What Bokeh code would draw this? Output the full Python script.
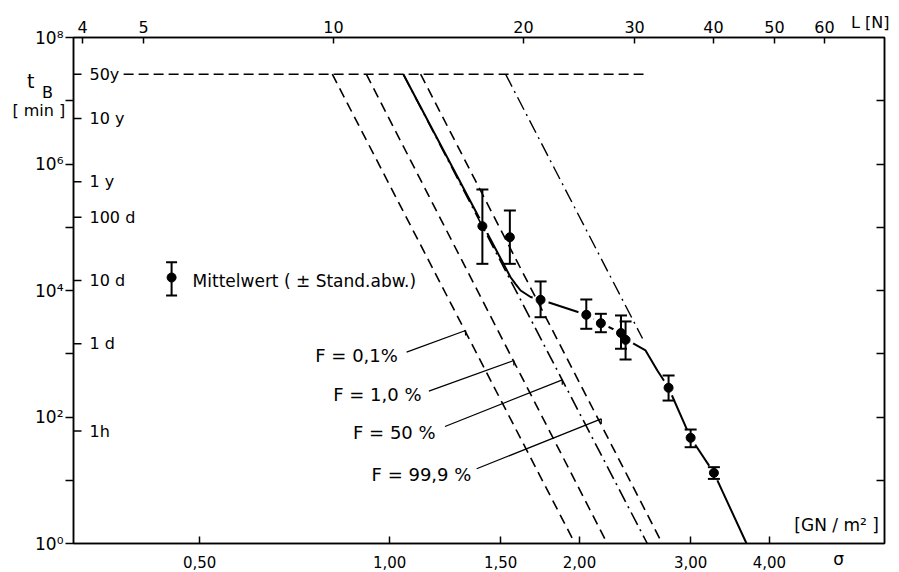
from bokeh.plotting import figure
from bokeh.models import Range1d, LogScale, LogAxis, FixedTicker, Label
from bokeh.core.properties import value
from bokeh.embed import file_html
from bokeh.resources import INLINE

FONT = "DejaVu Sans"

# ---- measured points: sigma [GN/m^2], t_B [min] (mean, upper, lower) ----
sigma_pts = [1.403, 1.551, 1.735, 2.05, 2.162, 2.327, 2.366, 2.768, 3.00, 3.266]
t_mean = [1.04e5, 6.96e4, 7.13e3, 4.13e3, 3.04e3, 2.13e3, 1.66e3, 290, 46.9, 13.1]
t_upper = [3.95e5, 1.84e5, 1.39e4, 7.21e3, 4.28e3, 4.03e3, 3.24e3, 453, 63.4, 16.1]
t_lower = [2.64e4, 2.64e4, 3.78e3, 2.48e3, 2.19e3, 1.20e3, 811, 182, 33.3, 10.5]

# ---- mean curve ----
curve_sigma = [1.0513, 1.555, 1.585, 1.613, 1.673, 1.735, 2.05, 2.162, 2.327, 2.366,
               2.436, 2.545, 2.657, 2.768, 3.00, 3.266, 3.679]
curve_t = [2.63e7, 1.62e4, 1.25e4, 1.0e4, 7.9e3, 7.13e3, 4.13e3, 3.04e3, 2.13e3, 1.66e3,
           1.45e3, 1.13e3, 543, 290, 46.9, 13.1, 1.0]

# ---- failure-probability lines F (sigma at t = 50 y and at t = 1 min) ----
F_names = ["F =  0,1%", "F =  1,0 %", "F =  50 %", "F = 99,9 %"]
F_sigma_top = [0.8113, 0.9185, 1.0513, 1.1199]
F_sigma_bottom = [1.967, 2.213, 2.561, 2.705]
F_dash = ["10 6", "10 6", "14 5 2 5", "10 6"]
F_t_top = 2.63e7
F_t_bottom = 1.0

# extra upper dash-dot bound
upper_sigma = [1.527, 2.517]
upper_t = [2.63e7, 1742]

# ---- time marks ----
MIN_PER_YEAR = 525960
time_vals = [50 * MIN_PER_YEAR, 10 * MIN_PER_YEAR, MIN_PER_YEAR, 144000, 14400, 1440, 60]
time_labels = ["50y", "10 y", "1 y", "100 d", "10 d", "1 d", "1h"]

# ---- axis ticks ----
y_ticks = [1, 10, 100, 1e3, 1e4, 1e5, 1e6, 1e7, 1e8]
y_tick_labels = ["10\u2070", "", "10\u00b2", "", "10\u2074", "", "10\u2076", "", "10\u2078"]
x_ticks = [0.5, 1.0, 1.5, 2.0, 3.0, 4.0]
x_tick_labels = ["0,50", "1,00", "1,50", "2,00", "3,00", "4,00"]
L_ticks = [4, 5, 10, 20, 30, 40, 50, 60]
L_per_sigma = 12.27

X0, X1 = 0.3155, 6.087
Y0, Y1 = 1.0, 1e8

p = figure(x_axis_type="log", y_axis_type="log",
           x_range=Range1d(X0, X1), y_range=Range1d(Y0, Y1),
           frame_width=811, frame_height=506,
           min_border_left=73, min_border_top=37, min_border_right=15, min_border_bottom=29,
           output_backend="svg", toolbar_location=None)
p.xgrid.visible = False
p.ygrid.visible = False
p.outline_line_color = "black"
p.outline_line_width = 1.5
p.background_fill_color = "white"
p.border_fill_color = "white"

# bottom axis
bx = p.below[0]
bx.ticker = FixedTicker(ticks=x_ticks)
bx.major_label_overrides = dict(zip(x_ticks, x_tick_labels))
bx.major_tick_in = 7
bx.major_tick_out = 0
bx.minor_tick_line_color = None
bx.major_label_standoff = 12
bx.axis_line_width = 1.5
bx.major_tick_line_width = 1.5
bx.major_label_text_font = FONT
bx.major_label_text_font_size = "15px"
bx.major_label_text_color = "black"

# left axis
ly = p.left[0]
ly.ticker = FixedTicker(ticks=y_ticks)
ly.major_label_overrides = dict(zip(y_ticks, y_tick_labels))
ly.major_tick_in = 0
ly.major_tick_out = 8
ly.minor_tick_line_color = None
ly.major_label_standoff = 2
ly.axis_line_width = 1.5
ly.major_tick_line_width = 1.5
ly.major_label_text_font = FONT
ly.major_label_text_font_size = "17px"
ly.major_label_text_color = "black"

# right axis (ticks only)
r_ticks = y_ticks[1:-1]
ry = LogAxis(ticker=FixedTicker(ticks=r_ticks), major_tick_in=8, major_tick_out=0,
             minor_tick_line_color=None, axis_line_width=1.5, major_tick_line_width=1.5,
             major_label_standoff=0)
ry.major_label_overrides = {t: "" for t in r_ticks}
p.add_layout(ry, "right")

# top axis: L [N]
p.extra_x_ranges = {"L": Range1d(X0 * L_per_sigma, X1 * L_per_sigma)}
p.extra_x_scales = {"L": LogScale()}
tx = LogAxis(x_range_name="L", ticker=FixedTicker(ticks=L_ticks),
             major_tick_in=6, major_tick_out=0, minor_tick_line_color=None,
             major_label_standoff=5, axis_line_width=1.5, major_tick_line_width=1.5,
             major_label_text_font=FONT, major_label_text_font_size="16px",
             major_label_text_color="black")
tx.major_label_overrides = {t: str(t) for t in L_ticks}
p.add_layout(tx, "above")

# 50 y horizontal dashed line
p.line(x=[0.3788, 2.526], y=[time_vals[0], time_vals[0]], line_color="black",
       line_width=1.6, line_dash="10 5")

# mean curve, with gaps around the markers
p.line(x=curve_sigma, y=curve_t, line_color="black", line_width=2)
p.scatter(x=sigma_pts, y=t_mean, size=17, marker="circle", fill_color="white",
          line_color=None)

# F lines
for s0, s1, d in zip(F_sigma_top, F_sigma_bottom, F_dash):
    p.line(x=[s0, s1], y=[F_t_top, F_t_bottom], line_color="black", line_width=1.6,
           line_dash=d)
p.line(x=upper_sigma, y=upper_t, line_color="black", line_width=1.4, line_dash="14 5 2 5")

# error bars
p.segment(x0=sigma_pts, y0=t_lower, x1=sigma_pts, y1=t_upper, line_color="black",
          line_width=2)
p.scatter(x=sigma_pts + sigma_pts, y=t_lower + t_upper, marker="dash", size=12,
          line_color="black", line_width=2)
p.scatter(x=sigma_pts, y=t_mean, marker="circle", size=9, fill_color="black",
          line_color="black")

# inner time ticks and labels
tick_len = 10 ** (8 / 631)
p.segment(x0=[X0] * len(time_vals), x1=[X0 * tick_len] * len(time_vals),
          y0=time_vals, y1=time_vals, line_color="black", line_width=1.5)
p.text(x=[X0] * len(time_vals), y=time_vals, text=time_labels, x_offset=16,
       text_align="left", text_baseline="middle", text_font=value(FONT),
       text_font_size="16px", text_color="black")

# legend (manual)
p.segment(x0=[0.4513], x1=[0.4513], y0=[8337], y1=[28030], line_color="black", line_width=2)
p.scatter(x=[0.4513, 0.4513], y=[8337, 28030], marker="dash", size=11, line_color="black",
          line_width=2)
p.scatter(x=[0.4513], y=[16050], marker="circle", size=9, fill_color="black",
          line_color="black")
p.text(x=[0.4873], y=[14390], text=["Mittelwert ( \u00b1 Stand.abw.)"], text_align="left",
       text_baseline="middle", text_font=value(FONT), text_font_size="17px",
       text_color="black")

# F labels with leader lines (small hook at the line end)
lead_x0 = [1.064, 1.154, 1.224, 1.374]
lead_y0 = [1058, 255.8, 70.8, 15.2]
lead_x1 = [1.3196, 1.574, 1.878, 2.165]
lead_y1 = [2331, 782, 387, 93.6]
hook = 10 ** (-5 / 63.25)
p.segment(x0=lead_x0, y0=lead_y0, x1=lead_x1, y1=lead_y1, line_color="black", line_width=1.3)
p.segment(x0=lead_x1, y0=lead_y1, x1=lead_x1, y1=[v * hook for v in lead_y1],
          line_color="black", line_width=1.3)
p.text(x=[1.0524, 1.1474, 1.2078, 1.3477], y=[938, 226.8, 57.5, 12.33], text=F_names,
       text_align="right", text_baseline="middle", text_font=value(FONT),
       text_font_size="18px", text_color="black")

# unit texts
def mk(x, y, t, size="16px", align="center"):
    return Label(x=x, y=y, text=t, text_font=FONT, text_font_size=size,
                 text_align=align, text_baseline="middle", text_color="black")

p.add_layout(mk(5.11, 1.926, "[GN / m\u00b2 ]", size="17px"))
# labels outside the frame live in the bottom side panel (it only grows below the view)
for lbl in [mk(0.2698, 2.09e7, "t", size="19px"),
            mk(0.2868, 1.35e7, "B", size="16px"),
            mk(0.2780, 7.01e6, "[ min ]", size="16px"),
            mk(5.78, 1.73e8, "L [N]", size="16px"),
            mk(5.148, 0.579, "\u03c3", size="17px")]:
    p.add_layout(lbl, "below")

open("out.html", "w").write(file_html(p, INLINE))
